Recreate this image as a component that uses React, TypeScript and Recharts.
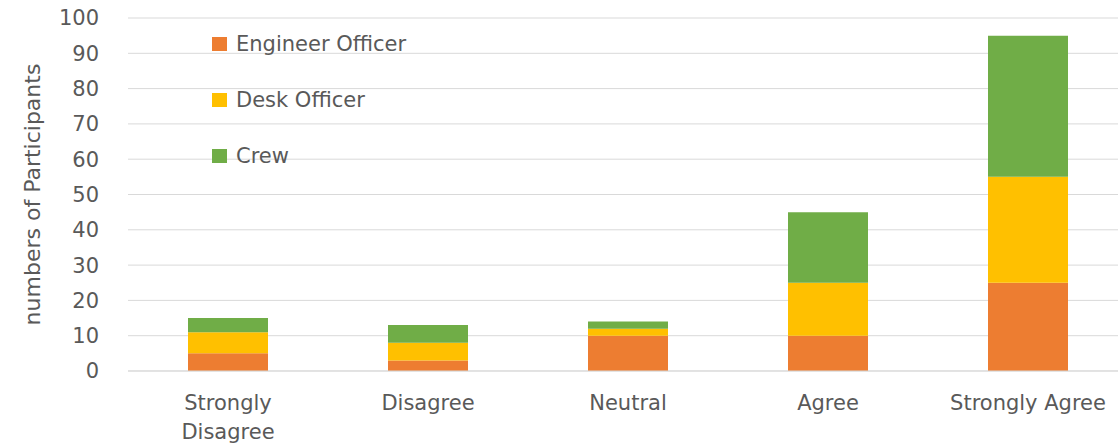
import { Bar, BarChart, CartesianGrid, Legend, XAxis, YAxis } from 'recharts'

const categories = ['Strongly Disagree', 'Disagree', 'Neutral', 'Agree', 'Strongly Agree']
const engineerOfficer = [5, 3, 10, 10, 25]
const deskOfficer = [6, 5, 2, 15, 30]
const crew = [4, 5, 2, 20, 40]
const yTicks = [0, 10, 20, 30, 40, 50, 60, 70, 80, 90, 100]

const series = [
  { key: 'engineer', label: 'Engineer Officer', color: '#ED7D31' },
  { key: 'desk', label: 'Desk Officer', color: '#FFC000' },
  { key: 'crew', label: 'Crew', color: '#70AD47' },
]

const data = categories.map((name, i) => ({
  name,
  engineer: engineerOfficer[i],
  desk: deskOfficer[i],
  crew: crew[i],
}))

const FONT = '"DejaVu Sans", sans-serif'
const TEXT = '#595959'

function CategoryTick({ x, y, payload }: any) {
  const words = String(payload.value) === 'Strongly Disagree' ? ['Strongly', 'Disagree'] : [String(payload.value)]
  return (
    <text x={x} y={y} textAnchor='middle' fill={TEXT} fontSize={21} fontFamily={FONT}>
      {words.map((w, i) => (
        <tspan key={w} x={x} dy={i === 0 ? 31 : 29}>
          {w}
        </tspan>
      ))}
    </text>
  )
}

function SideLegend() {
  return (
    <div style={{ fontFamily: FONT, color: TEXT, fontSize: 21 }}>
      {series.map((s) => (
        <div key={s.key} style={{ display: 'flex', alignItems: 'center', height: 28, marginBottom: 28 }}>
          <span style={{ width: 15, height: 14, background: s.color, marginRight: 9, display: 'inline-block' }} />
          <span>{s.label}</span>
        </div>
      ))}
    </div>
  )
}

export default function App() {
  return (
    <div style={{ position: 'absolute', left: 0, top: 0, width: 1118, height: 446, overflow: 'hidden', background: '#fff' }}>
      <BarChart
        width={1140}
        height={446}
        data={data}
        margin={{ top: 18, right: 12, bottom: 0, left: 0 }}
        barCategoryGap='30%'
      >
        <CartesianGrid vertical={false} stroke='#d9d9d9' />
        <XAxis
          dataKey='name'
          height={75}
          axisLine={{ stroke: '#d9d9d9' }}
          tickLine={false}
          interval={0}
          tick={<CategoryTick />}
        />
        <YAxis
          width={128}
          domain={[0, 100]}
          ticks={yTicks}
          axisLine={false}
          tickLine={false}
          tickMargin={23}
          tick={{ fill: TEXT, fontSize: 21, fontFamily: FONT }}
          label={{
            value: 'numbers of Participants',
            angle: -90,
            position: 'insideLeft',
            offset: 32,
            style: { fill: TEXT, fontSize: 22, fontFamily: FONT, textAnchor: 'middle' },
          }}
        />
        <Legend
          verticalAlign='middle'
          align='center'
          layout='vertical'
          content={<SideLegend />}
          wrapperStyle={{ left: 212, top: 30, width: 300 }}
        />
        {series.map((s) => (
          <Bar key={s.key} dataKey={s.key} name={s.label} stackId='a' fill={s.color} isAnimationActive={false} />
        ))}
      </BarChart>
    </div>
  )
}
